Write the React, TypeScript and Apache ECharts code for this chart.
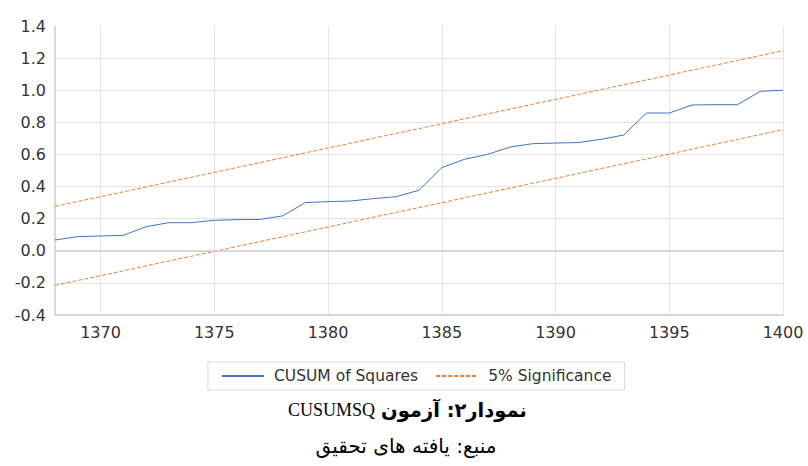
import React, { useEffect, useRef } from "react";
import * as echarts from "echarts";

const years: string[] = [
  "1368", "1369", "1370", "1371", "1372", "1373", "1374", "1375", "1376", "1377", "1378",
  "1379", "1380", "1381", "1382", "1383", "1384", "1385", "1386", "1387", "1388", "1389",
  "1390", "1391", "1392", "1393", "1394", "1395", "1396", "1397", "1398", "1399", "1400",
];

const cusumSq: number[] = [
  0.067, 0.088, 0.092, 0.096, 0.15, 0.175, 0.175, 0.19, 0.194, 0.195, 0.217,
  0.3, 0.306, 0.31, 0.325, 0.337, 0.377, 0.518, 0.57, 0.6, 0.646, 0.667,
  0.671, 0.674, 0.694, 0.721, 0.858, 0.858, 0.908, 0.91, 0.91, 0.993, 1.0,
];

const upper5: number[] = [
  0.276, 0.307, 0.337, 0.367, 0.398, 0.428, 0.458, 0.488, 0.519, 0.549, 0.579,
  0.61, 0.64, 0.67, 0.701, 0.731, 0.761, 0.791, 0.822, 0.852, 0.882, 0.913,
  0.943, 0.973, 1.004, 1.034, 1.064, 1.094, 1.125, 1.155, 1.185, 1.216, 1.246,
];

const lower5: number[] = [
  -0.216, -0.185, -0.155, -0.125, -0.094, -0.064, -0.034, -0.004, 0.027, 0.057, 0.087,
  0.118, 0.148, 0.178, 0.209, 0.239, 0.269, 0.299, 0.33, 0.36, 0.39, 0.421,
  0.451, 0.481, 0.512, 0.542, 0.572, 0.602, 0.633, 0.663, 0.693, 0.724, 0.754,
];

const seriesNames = ["CUSUM of Squares", "5% Significance"];
const titleLatin = "CUSUMSQ";
const titlePersian = "نمودار۲: آزمون";
const sourceText = "منبع: یافته های تحقیق";

export default function App() {
  const ref = useRef<HTMLDivElement>(null);
  useEffect(() => {
    document.body.style.margin = "0";
    if (!ref.current) return;
    const chart = echarts.init(ref.current, undefined, { renderer: "svg" });
    const showEvery5 = (_i: number, v: string) => Number(v) % 5 === 0;
    chart.setOption({
      animation: false,
      backgroundColor: "#ffffff",
      grid: { left: 55, right: 25, top: 26, bottom: 151, containLabel: false },
      legend: {
        left: 208,
        top: 362,
        data: seriesNames,
        itemWidth: 42,
        itemHeight: 14,
        itemGap: 17,
        padding: [6, 13, 6, 13],
        borderColor: "#d9d9d9",
        borderWidth: 1,
        itemStyle: { opacity: 0 },
        textStyle: { fontFamily: "DejaVu Sans", fontSize: 15.5, color: "#333", padding: [0, 0, 0, 5] },
      },
      xAxis: {
        type: "category",
        data: years,
        boundaryGap: false,
        axisLine: { onZero: false, lineStyle: { color: "#cfcfcf", width: 1.5 } },
        axisTick: { show: false },
        axisLabel: {
          interval: showEvery5,
          fontFamily: "DejaVu Sans",
          fontSize: 16,
          color: "#333",
          margin: 9,
        },
        splitLine: { show: true, interval: showEvery5, lineStyle: { color: "#e4e4e4", width: 1 } },
      },
      yAxis: {
        type: "value",
        min: -0.4,
        max: 1.4,
        interval: 0.2,
        axisLine: { show: true, lineStyle: { color: "#cfcfcf", width: 1.5 } },
        axisTick: { show: false },
        axisLabel: {
          formatter: (v: number) => v.toFixed(1),
          fontFamily: "DejaVu Sans",
          fontSize: 16,
          color: "#333",
          margin: 9,
        },
        splitLine: { showMaxLine: false, lineStyle: { color: "#e4e4e4", width: 1 } },
      },
      series: [
        {
          name: seriesNames[0],
          type: "line",
          data: cusumSq,
          symbol: "none",
          lineStyle: { color: "#4472C4", width: 1 },
          itemStyle: { color: "#4472C4" },
          z: 3,
          markLine: {
            silent: true,
            symbol: "none",
            label: { show: false },
            lineStyle: { color: "#cfcfcf", width: 1.5, type: "solid" },
            data: [{ yAxis: 0 }],
          },
        },
        {
          name: seriesNames[1],
          type: "line",
          data: upper5,
          symbol: "none",
          lineStyle: { color: "#ED7D31", width: 1, type: [4, 2] },
          itemStyle: { color: "#ED7D31" },
        },
        {
          name: seriesNames[1],
          type: "line",
          data: lower5,
          symbol: "none",
          lineStyle: { color: "#ED7D31", width: 1, type: [4, 2] },
          itemStyle: { color: "#ED7D31" },
        },
      ],
      graphic: [
        {
          type: "text",
          x: 375,
          y: 410,
          style: {
            text: titleLatin,
            font: "18px 'Liberation Serif', 'Times New Roman', serif",
            fill: "#000",
            textAlign: "right",
            textVerticalAlign: "middle",
          },
        },
        {
          type: "text",
          x: 381,
          y: 410,
          style: {
            text: titlePersian,
            font: "bold 19.5px 'DejaVu Sans', serif",
            fill: "#000",
            textAlign: "left",
            textVerticalAlign: "middle",
          },
        },
        {
          type: "text",
          x: 406,
          y: 446,
          style: {
            text: sourceText,
            font: "20px 'DejaVu Sans', serif",
            fill: "#000",
            textAlign: "center",
            textVerticalAlign: "middle",
          },
        },
      ],
    });
    return () => chart.dispose();
  }, []);
  return <div ref={ref} style={{ width: 808, height: 466 }} />;
}
